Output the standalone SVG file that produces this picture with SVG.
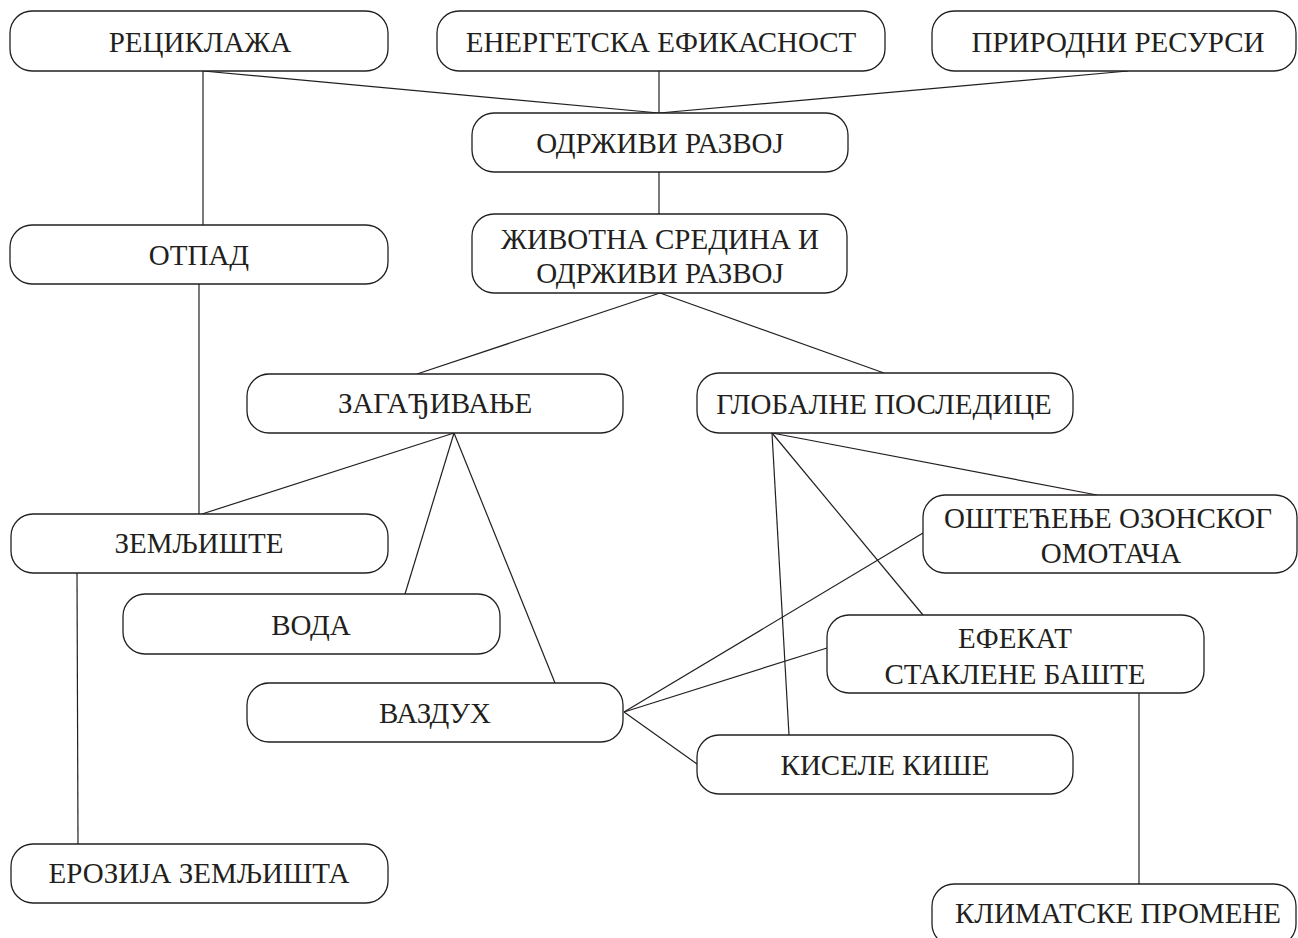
<svg xmlns="http://www.w3.org/2000/svg" width="1298" height="938" viewBox="0 0 1298 938">
<style>
.box{fill:#fff;stroke:#231f20;stroke-width:1.3}
.lbl{font-family:"Liberation Serif","Times New Roman",serif;font-size:29px;fill:#231f20;text-anchor:middle}
.con line{stroke:#231f20;stroke-width:1.2;fill:none}
</style>
<rect x="0" y="0" width="1298" height="938" fill="#fff"/>
<g class="con" id="connectors">
<line x1="203" y1="71" x2="659" y2="113"/>
<line x1="659" y1="71" x2="659" y2="113"/>
<line x1="1128" y1="71" x2="659" y2="113"/>
<line x1="203" y1="71" x2="203" y2="225"/>
<line x1="659" y1="172" x2="659" y2="214"/>
<line x1="660" y1="293" x2="417" y2="374"/>
<line x1="660" y1="293" x2="884" y2="373"/>
<line x1="199" y1="284" x2="199" y2="514"/>
<line x1="454" y1="433" x2="202" y2="514"/>
<line x1="454" y1="433" x2="405" y2="594"/>
<line x1="454" y1="433" x2="555" y2="683"/>
<line x1="772" y1="433" x2="1097" y2="495"/>
<line x1="772" y1="433" x2="923" y2="615"/>
<line x1="772" y1="433" x2="789" y2="735"/>
<line x1="77" y1="573" x2="78" y2="844"/>
<line x1="624" y1="712" x2="923" y2="533"/>
<line x1="624" y1="712" x2="827" y2="648"/>
<line x1="624" y1="712" x2="697" y2="764"/>
<line x1="1139" y1="693" x2="1139" y2="884"/>
</g>
<g id="n-reciklaza"><rect class="box" x="10" y="11" width="378" height="60" rx="22"/><text class="lbl" x="200" y="52">РЕЦИКЛАЖА</text></g>
<g id="n-energetska"><rect class="box" x="437" y="11" width="448" height="60" rx="22"/><text class="lbl" x="661" y="52">ЕНЕРГЕТСКА ЕФИКАСНОСТ</text></g>
<g id="n-prirodni"><rect class="box" x="932" y="11" width="364" height="60" rx="22"/><text class="lbl" x="1118" y="52">ПРИРОДНИ РЕСУРСИ</text></g>
<g id="n-odrzivi"><rect class="box" x="472" y="113" width="376" height="59" rx="22"/><text class="lbl" x="660" y="153">ОДРЖИВИ РАЗВОЈ</text></g>
<g id="n-zivotna"><rect class="box" x="472" y="214" width="375" height="79" rx="22"/><text class="lbl" x="660" y="249">ЖИВОТНА СРЕДИНА И</text><text class="lbl" x="660" y="283">ОДРЖИВИ РАЗВОЈ</text></g>
<g id="n-otpad"><rect class="box" x="10" y="225" width="378" height="59" rx="22"/><text class="lbl" x="199" y="265">ОТПАД</text></g>
<g id="n-zagadjivanje"><rect class="box" x="247" y="374" width="376" height="59" rx="22"/><text class="lbl" x="435" y="413">ЗАГАЂИВАЊЕ</text></g>
<g id="n-globalne"><rect class="box" x="697" y="373" width="376" height="60" rx="22"/><text class="lbl" x="884" y="414">ГЛОБАЛНЕ ПОСЛЕДИЦЕ</text></g>
<g id="n-zemljiste"><rect class="box" x="11" y="514" width="377" height="59" rx="22"/><text class="lbl" x="199" y="553">ЗЕМЉИШТЕ</text></g>
<g id="n-ozon"><rect class="box" x="923" y="495" width="374" height="78" rx="22"/><text class="lbl" x="1108" y="528">ОШТЕЋЕЊЕ ОЗОНСКОГ</text><text class="lbl" x="1111" y="563">ОМОТАЧА</text></g>
<g id="n-voda"><rect class="box" x="123" y="594" width="377" height="60" rx="22"/><text class="lbl" x="311" y="635">ВОДА</text></g>
<g id="n-efekat"><rect class="box" x="827" y="615" width="377" height="78" rx="22"/><text class="lbl" x="1015" y="648">ЕФЕКАТ</text><text class="lbl" x="1015" y="684">СТАКЛЕНЕ БАШТЕ</text></g>
<g id="n-vazduh"><rect class="box" x="247" y="683" width="376" height="59" rx="22"/><text class="lbl" x="435" y="723">ВАЗДУХ</text></g>
<g id="n-kisele"><rect class="box" x="697" y="735" width="376" height="59" rx="22"/><text class="lbl" x="885" y="775">КИСЕЛЕ КИШЕ</text></g>
<g id="n-erozija"><rect class="box" x="11" y="844" width="377" height="59" rx="22"/><text class="lbl" x="199" y="883">ЕРОЗИЈА ЗЕМЉИШТА</text></g>
<g id="n-klimatske"><rect class="box" x="932" y="884" width="364" height="62" rx="22"/><text class="lbl" x="1118" y="923">КЛИМАТСКЕ ПРОМЕНЕ</text></g>
</svg>
